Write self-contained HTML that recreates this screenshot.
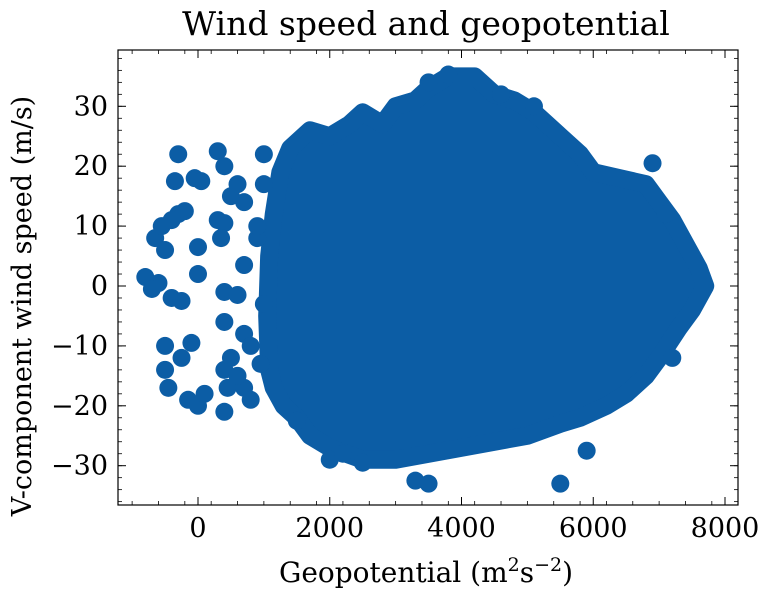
<!DOCTYPE html>
<html><head><meta charset="utf-8"><style>
body{margin:0;background:#fff;}
svg{display:block;font-family:"DejaVu Serif","Liberation Serif",serif;}
</style></head><body>
<svg id="chart" width="774" height="597" viewBox="0 0 774 597">
<text x="426" y="35" text-anchor="middle" font-size="33" fill="#000">Wind speed and geopotential</text>
<g id="marks"></g>
<rect x="118" y="50" width="620" height="455" fill="none" stroke="#000" stroke-width="1.2"/>
<g id="axes"></g>
<text x="426" y="582" text-anchor="middle" font-size="28">Geopotential (m<tspan dy="-11" font-size="19">2</tspan><tspan dy="11">s</tspan><tspan dy="-11" font-size="19">−2</tspan><tspan dy="11">)</tspan></text>
<text transform="translate(31,306) rotate(-90)" text-anchor="middle" font-size="27">V-component wind speed (m/s)</text>
</svg>
<script>
const xTicks=[0,2000,4000,6000,8000];
const yTicks=[-30,-20,-10,0,10,20,30];
const envX=[1250,1400,1700,2000,2300,2500,2800,3000,3300,3500,3800,4200,4500,4800,5100,5500,5800,6000,6400,6800,7000,7200,7400,7600,7700,7500,7300,7000,6800,6500,6200,5800,5500,5000,4500,4000,3500,3000,2500,2000,1700,1500,1300,1150,1080,1050,1080,1150];
const envY=[19,23,26,25,27,29,27,30,31,33,35,35,32,31,29,25,22,19,18,17,14,11,7,3,0,-4,-7,-12,-15,-18,-20,-22,-23,-25,-26,-27,-28,-29,-29,-27,-25,-22,-20,-17,-14,-5,5,12];
const ptX=[-800,-650,-550,-500,-600,-700,-400,-250,-500,-500,-450,-250,-100,-150,0,100,-300,-350,-50,50,-300,-200,-400,0,0,300,400,300,400,350,400,600,700,400,400,450,400,500,700,800,600,700,500,600,700,800,900,900,1000,3300,3500,5500,5900,3500,3800,6900,7100,7200,5100,4600,2000,1500,2500,2200,1000,950,1000];
const ptY=[1.5,8,10,6,0.5,-0.5,-2,-2.5,-10,-14,-17,-12,-9.5,-19,-20,-18,22,17.5,18,17.5,12,12.5,11,6.5,2,22.5,20,11,10.5,8,-1,-1.5,3.5,-6,-14,-17,-21,-12,-17,-19,-15,14,15,17,-8,-10,8,10,22,-32.5,-33,-33,-27.5,34,35.3,20.5,12,-12,30,32,-29,-22.5,-29.5,-28,-3,-13,17];
const X=v=>198+(v)*(527/8000);
const Y=v=>286-v*5.99;
const NS="http://www.w3.org/2000/svg";
const C="#0C5DA5";
const marks=document.getElementById('marks');
const poly=document.createElementNS(NS,'polygon');
poly.setAttribute('points',envX.map((x,i)=>X(x)+','+Y(envY[i])).join(' '));
poly.setAttribute('fill',C);poly.setAttribute('stroke',C);poly.setAttribute('stroke-width','18');poly.setAttribute('stroke-linejoin','round');


marks.appendChild(poly);
ptX.forEach((x,i)=>{const c=document.createElementNS(NS,'circle');
c.setAttribute('cx',X(x));c.setAttribute('cy',Y(ptY[i]));c.setAttribute('r','9');c.setAttribute('fill',C);


marks.appendChild(c);});
const ax=document.getElementById('axes');
function line(x1,y1,x2,y2,w){const l=document.createElementNS(NS,'line');l.setAttribute('x1',x1);l.setAttribute('y1',y1);l.setAttribute('x2',x2);l.setAttribute('y2',y2);l.setAttribute('stroke','#000');l.setAttribute('stroke-width',w);


ax.appendChild(l);}
function text(x,y,s,anchor){const t=document.createElementNS(NS,'text');t.setAttribute('x',x);t.setAttribute('y',y);t.setAttribute('text-anchor',anchor);t.setAttribute('font-size','27');t.textContent=s;


ax.appendChild(t);}
const fmt=v=>v<0?'−'+(-v):String(v);
xTicks.forEach(v=>{const x=X(v);line(x,505,x,497,1);line(x,50,x,58,1);text(x,537,fmt(v),'middle');});
for(let v=-1000;v<=8000;v+=400){const x=X(v);if(x>118&&x<738){line(x,505,x,501,0.8);line(x,50,x,54,0.8);}}
yTicks.forEach(v=>{const y=Y(v);line(118,y,126,y,1);line(738,y,730,y,1);text(108,y+9,fmt(v),'end');});
for(let v=-36;v<=38;v+=2){const y=Y(v);if(y>50&&y<505){line(118,y,122,y,0.8);line(738,y,734,y,0.8);}}
</script>
</body></html>
